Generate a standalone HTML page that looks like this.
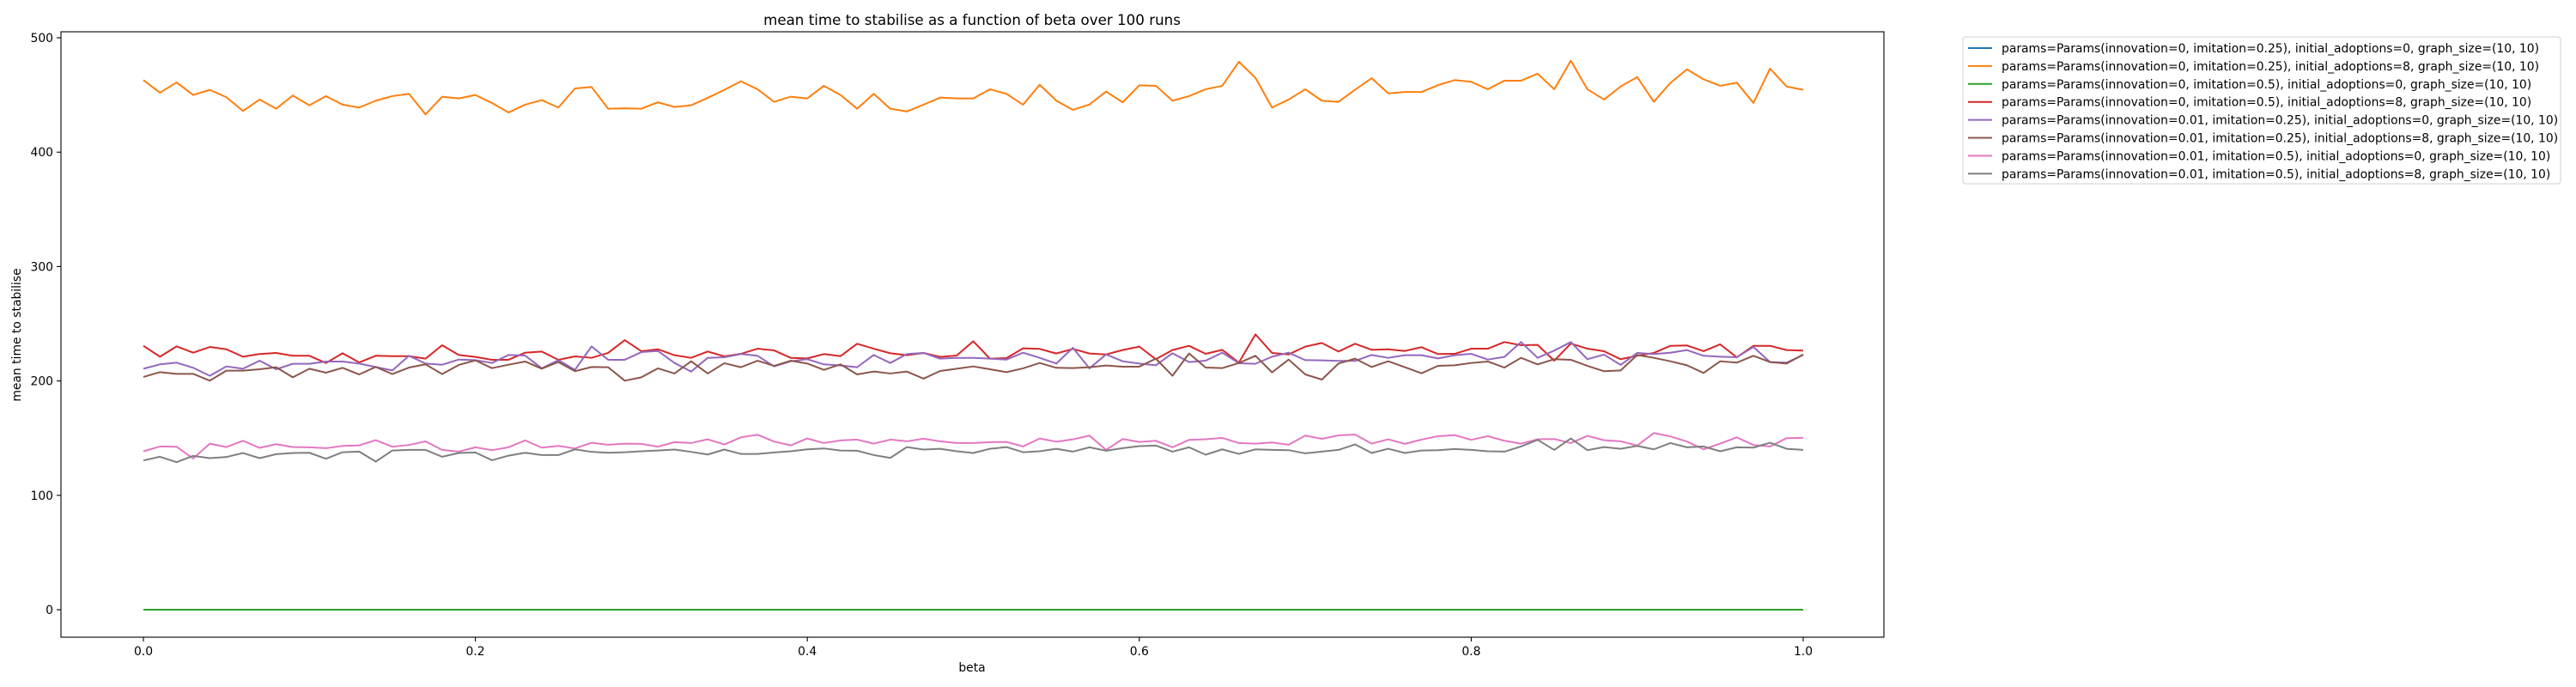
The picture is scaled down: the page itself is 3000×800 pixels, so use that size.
<!DOCTYPE html>
<html><head><meta charset="utf-8"><style>
html,body{margin:0;padding:0;background:#fff;}
svg{display:block;font-family:"DejaVu Sans","Liberation Sans",sans-serif;}
</style></head><body>
<svg id="chart" width="3000" height="800" viewBox="0 0 3000 800" xmlns="http://www.w3.org/2000/svg">
<rect x="0" y="0" width="3000" height="800" fill="#fff"/>
<text x="1132" y="29" font-size="16.7" text-anchor="middle" fill="#000">mean time to stabilise as a function of beta over 100 runs</text>
<g id="plot"></g>
<rect x="71" y="37" width="2123" height="705" fill="none" stroke="#000" stroke-width="1.1"/>
<g id="xticks"></g>
<g id="yticks"></g>
<text x="1132" y="782" font-size="13.9" text-anchor="middle">beta</text>
<text x="0" y="0" font-size="13.9" text-anchor="middle" transform="translate(24,390) rotate(-90)">mean time to stabilise</text>
<g id="legend"></g>
</svg>
<script>
const seriesLabels = [
"params=Params(innovation=0, imitation=0.25), initial_adoptions=0, graph_size=(10, 10)",
"params=Params(innovation=0, imitation=0.25), initial_adoptions=8, graph_size=(10, 10)",
"params=Params(innovation=0, imitation=0.5), initial_adoptions=0, graph_size=(10, 10)",
"params=Params(innovation=0, imitation=0.5), initial_adoptions=8, graph_size=(10, 10)",
"params=Params(innovation=0.01, imitation=0.25), initial_adoptions=0, graph_size=(10, 10)",
"params=Params(innovation=0.01, imitation=0.25), initial_adoptions=8, graph_size=(10, 10)",
"params=Params(innovation=0.01, imitation=0.5), initial_adoptions=0, graph_size=(10, 10)",
"params=Params(innovation=0.01, imitation=0.5), initial_adoptions=8, graph_size=(10, 10)"];
const seriesColors = ["#1f77b4","#ff7f0e","#2ca02c","#d62728","#9467bd","#8c564b","#e377c2","#7f7f7f"];
const xTicks = [0,0.2,0.4,0.6,0.8,1.0];
const xTickLabels = ["0.0","0.2","0.4","0.6","0.8","1.0"];
const yTicks = [0,100,200,300,400,500];
const yTickLabels = ["0","100","200","300","400","500"];
const betas = []; for (let i=0;i<=100;i++) betas.push(i/100);
const s0 = new Array(101).fill(0);
const s1 = [463,452,461,450,454.5,448,436,446,438,449.5,441,449,441.5,439,445,449,451,433,448.5,447,450,443,434.7,441.5,445.5,439,455.7,457,438,438.3,438,443.6,439.5,441,447.5,454.5,462,455,444,448.5,447,458,450,438,451,438,435.6,441.5,447.7,447,447,455,451,441.5,459,445,437,441.7,453,443.6,458.4,458,445,449,455,458,479,465,439,446,455,445,444,454.5,464.7,451.4,452.6,452.6,458.6,463,461.5,455,462.5,462.5,468.6,455,480,455,446,457.4,465.7,444,460.6,472.4,463.7,458,460.8,443,473,457.4,454.5];
const s2 = new Array(101).fill(0);
const s3 = [230.7,221.2,230.2,224.7,229.7,227.7,221.2,223.5,224.5,222,222,215.7,224.2,216.2,222,221.7,221.7,219.5,231.2,222.7,221,218.5,218.5,224.7,225.7,218.5,221.5,220.2,224.5,235.7,226,227.7,222.5,220.2,225.7,221.5,223.7,228.2,226.7,220.2,219.7,223.5,221.7,232.5,228.2,224.2,222.5,224.5,221,222.2,234.7,219.5,220,228.5,228,224,228,224,223.2,227,230,219,227,230.7,223.7,227.2,216,240.7,224.5,223.2,230,233.2,225.7,232.5,227.2,227.7,226.2,229.5,223.5,223.7,228.2,228.2,234,231.2,231.5,217.7,232.7,228.2,226,219,222,224.5,230.7,231,226,232,220.7,230.7,230.7,227,226.5];
const s4 = [210.7,214.5,216,211.5,204.5,212.7,210.7,217.7,210.2,215,215,217,217,215.2,212.2,209.2,222,215.2,214.2,218.7,218.2,215.7,222.7,222.2,211,218.2,209.7,230.2,218.5,218.5,225.2,226.2,215.7,208.2,220.2,220.7,223.5,222,212.7,217.2,219,214.5,213.5,212,222.7,215.7,223.5,224.5,219.5,220.2,220.2,219.5,218.7,224.7,220.2,215.2,229,211,223.2,217.2,215.2,213.7,224.2,216.5,217.7,224.7,215.5,215,221.2,224.7,218.2,218,217.5,217.5,222.7,220.2,222.5,222.5,219.7,222.5,223.7,218.7,221,234,220.2,226.5,234,219,223,214,224.5,223.5,224.7,227,222,221.2,220.7,229.7,216.5,216,222.7];
const s5 = [203.5,207.7,206.2,206.2,200.2,209,209,210.2,212,203.2,210.7,207.2,211.5,205.7,212.2,206,211.7,214.5,206,214,218,211.2,214.2,217,210.7,216.5,208.5,212.2,212,200.2,203.2,211,206.5,217.2,206.5,215.5,212,217.7,213.2,217.7,215.2,209.7,214.5,205.7,208.2,206.5,208.2,202,208.7,210.7,212.7,210.2,207.7,211,215.7,211.5,211.2,212,213.5,212.5,212.5,219.5,204.5,224,211.7,211.2,215.7,222,207.5,218.7,205.7,201.2,215.2,219.5,212.2,217.2,212,206.7,213.2,213.7,215.7,217,211.7,220.2,214.5,219,218.5,213.2,208.5,209.2,222.7,220.2,217.2,213.7,207,217.2,216,222,216.5,215.2,223.2];
const s6 = [138.5,142.7,142.5,132.2,145.2,142.2,147.7,141.5,144.7,142.2,142,141.2,143.2,143.7,148.2,142.5,144,147.2,139.7,138.2,142,139.5,142,148,141.7,143.2,141,146,144.2,145.2,145,142.5,146.5,145.7,149,144.5,150.7,153,147,143.7,149.7,145.7,148,148.7,145.2,148.7,147.2,149.5,147.2,145.7,145.7,146.5,146.7,142.7,149.7,146.9,148.9,152.2,139.7,149.2,146.7,147.7,142,148.5,149,150.2,145.7,145.2,146.2,144.2,152.2,149.4,152.4,153.2,145.2,149,145,148.7,151.7,152.7,148.5,151.7,147.7,145.2,149,149.2,145.7,152,148.2,147.2,143.5,154.5,151.5,147,140.2,145.2,150.7,144,142.7,150,150.2];
const s7 = [130.5,133.7,129,134.5,132.5,133.5,137,132.5,136,137,137.2,132,137.7,138.2,129.5,139.2,139.7,139.7,133.7,137,137.5,130.7,134.7,137.2,135.2,135.2,140.2,138,137.2,137.7,138.5,139.2,140,138,135.7,140,136.2,136.2,137.5,138.5,140.2,141,139.2,139,135.2,132.7,142.2,140,140.7,138.5,137,140.7,142.2,137.7,138.5,140.7,138.2,142,139,141.2,143,143.5,138.2,142,135.5,140.2,136.2,140.2,139.7,139.5,136.7,138.2,139.7,144.5,137,140.7,137,139.2,139.5,140.5,139.7,138.5,138.2,142.7,148.5,139.7,149.7,139.5,142.2,140.7,143.2,140.2,145.7,142,142.7,138.5,142,141.7,146,140.7,139.7];
const allSeries = [s0,s1,s2,s3,s4,s5,s6,s7];
const seriesNames = ["series-inn0-imi025-ad0","series-inn0-imi025-ad8","series-inn0-imi05-ad0","series-inn0-imi05-ad8","series-inn001-imi025-ad0","series-inn001-imi025-ad8","series-inn001-imi05-ad0","series-inn001-imi05-ad8"];

const NS = "http://www.w3.org/2000/svg";
function xScale(b){ return 167 + b*1933; }
function yScale(v){ return 710 - v*1.332; }
function mk(tag, attrs){ const e=document.createElementNS(NS,tag); for(const k in attrs) e.setAttribute(k,attrs[k]); return e; }

const plot = document.getElementById("plot");
allSeries.forEach((vals, si) => {
  const pts = vals.map((v,i)=> xScale(betas[i]).toFixed(2)+","+yScale(v).toFixed(2)).join(" ");
  const pl = mk("polyline",{points:pts,fill:"none",stroke:seriesColors[si],"stroke-width":"2","stroke-linejoin":"round"});
  
  
  plot.appendChild(pl);
});

const xg = document.getElementById("xticks");
xTicks.forEach((t,i)=>{
  const x = xScale(t);
  const ln = mk("line",{x1:x,x2:x,y1:742,y2:747,stroke:"#000","stroke-width":"1.1"});
  
  
  xg.appendChild(ln);
  const tx = mk("text",{x:x,y:763,"font-size":"13.9","text-anchor":"middle"});
  
  
  tx.textContent = xTickLabels[i];
  xg.appendChild(tx);
});
const yg = document.getElementById("yticks");
yTicks.forEach((t,i)=>{
  const y = yScale(t);
  const ln = mk("line",{x1:66,x2:71,y1:y,y2:y,stroke:"#000","stroke-width":"1.1"});
  
  
  yg.appendChild(ln);
  const tx = mk("text",{x:62,y:y+5,"font-size":"13.9","text-anchor":"end"});
  
  
  tx.textContent = yTickLabels[i];
  yg.appendChild(tx);
});

const lg = document.getElementById("legend");
const box = mk("rect",{x:2286,y:43,width:696,height:171,rx:3,fill:"#fff",stroke:"#d0d0d0","stroke-width":"1"});


lg.appendChild(box);
seriesLabels.forEach((lab,i)=>{
  const y = 56 + i*20.9;
  const ln = mk("line",{x1:2292,x2:2320,y1:y,y2:y,stroke:seriesColors[i],"stroke-width":"2"});
  
  
  lg.appendChild(ln);
  const tx = mk("text",{x:2331,y:y+5,"font-size":"13.9"});
  
  
  tx.textContent = lab;
  lg.appendChild(tx);
});
</script>
</body></html>
